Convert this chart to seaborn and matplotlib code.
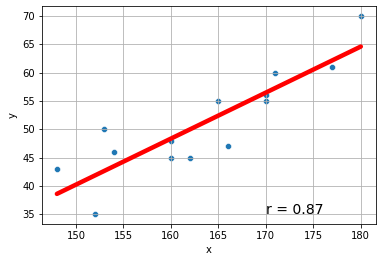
import numpy as np
import pandas as pd
import matplotlib
matplotlib.use("Agg")
import matplotlib.pyplot as plt
import seaborn as sns

x_vals = [148, 152, 153, 154, 160, 160, 162, 165, 166, 170, 170, 171, 177, 180]
y_vals = [43, 35, 50, 46, 48, 45, 45, 55, 47, 55, 56, 60, 61, 70]
r_label = "r = 0.87"

df = pd.DataFrame({"x": x_vals, "y": y_vals})

fig = plt.figure(figsize=(382 / 72, 262 / 72), dpi=72)
ax = fig.add_axes([41.7 / 382, 1 - 224.3 / 262, (376 - 41.7) / 382, (224.3 - 6) / 262])

sns.scatterplot(data=df, x="x", y="y", ax=ax, s=36, color="#1f77b4", zorder=1)

slope, intercept = np.polyfit(df["x"], df["y"], 1)
xs = np.array([df["x"].min(), df["x"].max()])
fit = pd.DataFrame({"x": xs, "y": slope * xs + intercept})
ax.plot(fit["x"], fit["y"], color="red", lw=4.5, solid_capstyle="round", zorder=3)

ax.grid(True, color="#b0b0b0", lw=0.8, zorder=1.5)
ax.set_axisbelow("line")
ax.text(170, 35, r_label, fontsize=14)
ax.set_xlabel("x")
ax.set_ylabel("y")

fig.savefig("out.png", dpi=72)
